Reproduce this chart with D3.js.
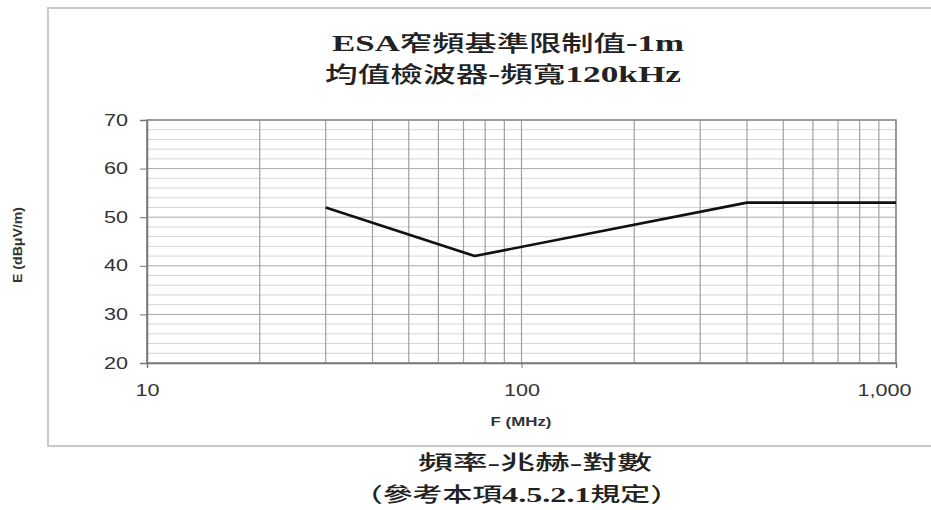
<!DOCTYPE html>
<html>
<head>
<meta charset="utf-8">
<script src="https://cdn.jsdelivr.net/npm/d3@7"></script>
<style>
  html, body { margin: 0; padding: 0; background: #fff; }
  svg { display: block; }
</style>
</head>
<body>
<svg id="chart" width="931" height="510"></svg>
<script>
// Limit curve (MHz vs dBµV/m)
const freqMHz = [30, 75, 400, 1000];
const limitDb = [52, 42, 53, 53];

// Axis ticks
const xTickValues = [10, 100, 1000];
const xTickLabels = ["10", "100", "1,000"];
const yTickValues = [20, 30, 40, 50, 60, 70];

const titleLines = ["ESA窄頻基準限制值-1m", "均值檢波器-頻寬120kHz"];
const captionLines = ["頻率-兆赫-對數", "（參考本項4.5.2.1規定）"];

const W = 931, H = 510;
const plot = { left: 147, right: 896, top: 120, bottom: 363 };
const wide = 1.35; // horizontal text stretch

const svg = d3.select("#chart");

const x = d3.scaleLog().domain([10, 1000]).range([plot.left, plot.right]);
const y = d3.scaleLinear().domain([20, 70]).range([plot.bottom, plot.top]);

function stretch(sel, k) {
  sel.each(function () {
    const len = this.getComputedTextLength();
    d3.select(this).attr("textLength", len * k).attr("lengthAdjust", "spacingAndGlyphs");
  });
}

// Outer frame
svg.append("path")
  .attr("d", `M${W + 5},8 H48 V446 H${W + 5}`)
  .attr("fill", "none")
  .attr("stroke", "#c9c9c9")
  .attr("stroke-width", 2);

// Minor horizontal grid (every 2 dB)
svg.append("g")
  .selectAll("line")
  .data(d3.range(20, 71, 2).filter(v => v % 10 !== 0))
  .join("line")
  .attr("x1", plot.left).attr("x2", plot.right)
  .attr("y1", d => y(d)).attr("y2", d => y(d))
  .attr("stroke", "#d4d4d4").attr("stroke-width", 1);

// Major horizontal grid
svg.append("g")
  .selectAll("line")
  .data(yTickValues)
  .join("line")
  .attr("x1", plot.left).attr("x2", plot.right)
  .attr("y1", d => y(d)).attr("y2", d => y(d))
  .attr("stroke", "#a8a8a8").attr("stroke-width", 1);

// Vertical log grid
svg.append("g")
  .selectAll("line")
  .data(x.ticks())
  .join("line")
  .attr("x1", d => x(d)).attr("x2", d => x(d))
  .attr("y1", plot.top).attr("y2", plot.bottom)
  .attr("stroke", "#a0a0a0").attr("stroke-width", 1.2);

// Plot border
svg.append("rect")
  .attr("x", plot.left).attr("y", plot.top)
  .attr("width", plot.right - plot.left).attr("height", plot.bottom - plot.top)
  .attr("fill", "none").attr("stroke", "#8a8a8a").attr("stroke-width", 1.5);

// Y axis
const yAxis = svg.append("g")
  .attr("transform", `translate(${plot.left},0)`)
  .call(d3.axisLeft(y).tickValues(yTickValues).tickSize(7).tickPadding(12));
yAxis.select(".domain").attr("stroke", "#777").attr("stroke-width", 1.5);
yAxis.selectAll(".tick line").attr("stroke", "#777");
yAxis.selectAll("text")
  .attr("font-family", "Liberation Sans, Arial, sans-serif")
  .attr("font-size", 16)
  .attr("fill", "#333")
  .call(stretch, wide);

// X axis
const xAxis = svg.append("g")
  .attr("transform", `translate(0,${plot.bottom})`)
  .call(d3.axisBottom(x).tickValues(xTickValues)
    .tickFormat((d, i) => xTickLabels[i]).tickSize(5).tickPadding(17));
xAxis.select(".domain").attr("stroke", "#777").attr("stroke-width", 1.5);
xAxis.selectAll(".tick line").attr("stroke", "#777");
xAxis.selectAll("text")
  .attr("font-family", "Liberation Sans, Arial, sans-serif")
  .attr("font-size", 16)
  .attr("fill", "#333")
  .call(stretch, wide);
xAxis.selectAll(".tick").filter(d => d === 1000).select("text").attr("dx", -12);

// Limit line
svg.append("path")
  .datum(freqMHz.map((f, i) => [f, limitDb[i]]))
  .attr("d", d3.line().x(d => x(d[0])).y(d => y(d[1])))
  .attr("fill", "none")
  .attr("stroke", "#111")
  .attr("stroke-width", 2.6)
  .attr("stroke-linejoin", "round");

// Axis titles
svg.append("text")
  .attr("x", 521).attr("y", 426)
  .attr("text-anchor", "middle")
  .attr("font-family", "Liberation Sans, Arial, sans-serif")
  .attr("font-size", 12.5).attr("font-weight", "bold").attr("fill", "#333")
  .text("F (MHz)")
  .call(stretch, wide);

svg.append("text")
  .attr("transform", "translate(22,245) rotate(-90)")
  .attr("text-anchor", "middle")
  .attr("font-family", "Liberation Sans, Arial, sans-serif")
  .attr("font-size", 12).attr("font-weight", "bold").attr("fill", "#333")
  .attr("textLength", 76).attr("lengthAdjust", "spacingAndGlyphs")
  .text("E (dBμV/m)");

// Title and caption: Latin runs in bold serif, CJK runs in medium weight
const serifFont = "Liberation Serif, serif";
const cjkFont = "'Noto Sans CJK TC', 'Noto Sans CJK SC', sans-serif";
const isLatin = ch => /[A-Za-z0-9.\-]/.test(ch);

function mixedText(str, x0, x1, baseline, size) {
  const runs = [];
  for (const ch of str) {
    const latin = isLatin(ch);
    if (runs.length && runs[runs.length - 1].latin === latin) runs[runs.length - 1].s += ch;
    else runs.push({ latin, s: ch });
  }
  const t = svg.append("text")
    .attr("x", x0).attr("y", baseline)
    .attr("font-size", size).attr("fill", "#222")
    .attr("textLength", x1 - x0).attr("lengthAdjust", "spacingAndGlyphs");
  t.selectAll("tspan")
    .data(runs)
    .join("tspan")
    .attr("font-family", d => d.latin ? serifFont : cjkFont)
    .attr("font-weight", d => d.latin ? "bold" : 500)
    .attr("font-size", d => d.latin ? size * 1.08 : size)
    .text(d => d.s);
}

mixedText(titleLines[0], 332, 684, 51, 22);
mixedText(titleLines[1], 325, 681, 82, 22);
mixedText(captionLines[0], 418, 652, 470, 20);
mixedText(captionLines[1], 353, 680, 502, 20);
</script>
</body>
</html>
